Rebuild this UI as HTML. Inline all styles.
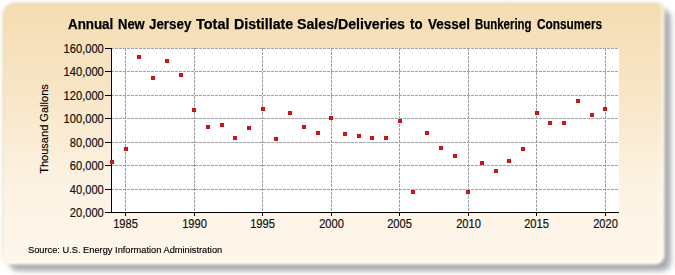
<!DOCTYPE html>
<html><head><meta charset="utf-8"><style>
html,body{margin:0;padding:0;background:#fff;}
body{width:675px;height:275px;position:relative;overflow:hidden;}
.panel{position:absolute;left:3px;top:3px;width:661px;height:261px;border-radius:13px 8px 9px 8px;filter:blur(1px);
background:linear-gradient(to bottom,#f5ddb3 0%,#f8e6c6 35%,#fdf3e4 70%,#fff7ec 100%);
box-shadow:0 0 3px 1px rgba(236,228,205,0.85), 2px 2px 4px rgba(0,0,0,0.1), 7px 7px 5px rgba(10,20,30,0.34), inset -2px -2px 3px rgba(255,255,255,0.75), inset 1px 1px 2px rgba(150,150,100,0.12);}
svg{position:absolute;left:0;top:0;}
.ax{font-family:"Liberation Sans",sans-serif;font-size:12.5px;fill:#111;stroke:#111;stroke-width:0.2px;}
.tw{position:absolute;top:16px;font-family:"Liberation Sans",sans-serif;font-weight:bold;font-size:14.0px;line-height:16px;color:#000;-webkit-text-stroke:0.25px #000;white-space:nowrap;transform-origin:0 0;}
.ytitle{position:absolute;left:43.5px;top:129.3px;width:0;height:0;}
.ytitle span{position:absolute;left:0;top:0;transform:translate(-50%,-50%) rotate(-90deg);font-family:"Liberation Sans",sans-serif;font-size:11.05px;line-height:13px;color:#000;-webkit-text-stroke:0.15px #000;white-space:nowrap;}
.src{position:absolute;left:28.2px;top:242.5px;font-family:"Liberation Sans",sans-serif;font-size:9.6px;line-height:13px;color:#000;-webkit-text-stroke:0.15px #000;white-space:nowrap;transform-origin:0 0;transform:scaleX(0.966);}
</style></head><body>
<div class="panel"></div>
<span class="tw" style="left:68.00px;transform:scaleX(0.9532)">Annual</span><span class="tw" style="left:118.20px;transform:scaleX(0.9276)">New</span><span class="tw" style="left:149.10px;transform:scaleX(0.9533)">Jersey</span><span class="tw" style="left:196.00px;transform:scaleX(1.0344)">Total</span><span class="tw" style="left:233.80px;transform:scaleX(1.0155)">Distillate</span><span class="tw" style="left:296.80px;transform:scaleX(1.0121)">Sales/Deliveries</span><span class="tw" style="left:409.50px;transform:scaleX(0.9462)">to</span><span class="tw" style="left:428.00px;transform:scaleX(0.9614)">Vessel</span><span class="tw" style="left:475.40px;transform:scaleX(0.8174)">Bunkering</span><span class="tw" style="left:536.80px;transform:scaleX(0.8455)">Consumers</span>
<div class="ytitle"><span>Thousand Gallons</span></div>
<svg width="675" height="275" viewBox="0 0 675 275" shape-rendering="crispEdges">
<rect x="112" y="48" width="507" height="164" fill="#ffffff"/>
<line x1="111" y1="48.5" x2="619" y2="48.5" stroke="#a0a0a0" stroke-width="1" stroke-dasharray="3,1"/>
<line x1="111" y1="71.5" x2="619" y2="71.5" stroke="#a0a0a0" stroke-width="1" stroke-dasharray="3,1"/>
<line x1="111" y1="95.5" x2="619" y2="95.5" stroke="#a0a0a0" stroke-width="1" stroke-dasharray="3,1"/>
<line x1="111" y1="118.5" x2="619" y2="118.5" stroke="#a0a0a0" stroke-width="1" stroke-dasharray="3,1"/>
<line x1="111" y1="142.5" x2="619" y2="142.5" stroke="#a0a0a0" stroke-width="1" stroke-dasharray="3,1"/>
<line x1="111" y1="165.5" x2="619" y2="165.5" stroke="#a0a0a0" stroke-width="1" stroke-dasharray="3,1"/>
<line x1="111" y1="189.5" x2="619" y2="189.5" stroke="#a0a0a0" stroke-width="1" stroke-dasharray="3,1"/>
<line x1="125.5" y1="48" x2="125.5" y2="212" stroke="#a0a0a0" stroke-width="1" stroke-dasharray="3,1"/>
<line x1="194.5" y1="48" x2="194.5" y2="212" stroke="#a0a0a0" stroke-width="1" stroke-dasharray="3,1"/>
<line x1="262.5" y1="48" x2="262.5" y2="212" stroke="#a0a0a0" stroke-width="1" stroke-dasharray="3,1"/>
<line x1="331.5" y1="48" x2="331.5" y2="212" stroke="#a0a0a0" stroke-width="1" stroke-dasharray="3,1"/>
<line x1="399.5" y1="48" x2="399.5" y2="212" stroke="#a0a0a0" stroke-width="1" stroke-dasharray="3,1"/>
<line x1="468.5" y1="48" x2="468.5" y2="212" stroke="#a0a0a0" stroke-width="1" stroke-dasharray="3,1"/>
<line x1="536.5" y1="48" x2="536.5" y2="212" stroke="#a0a0a0" stroke-width="1" stroke-dasharray="3,1"/>
<line x1="605.5" y1="48" x2="605.5" y2="212" stroke="#a0a0a0" stroke-width="1" stroke-dasharray="3,1"/>
<line x1="111.5" y1="48" x2="111.5" y2="213" stroke="#000" stroke-width="1"/>
<line x1="111" y1="212.5" x2="619" y2="212.5" stroke="#000" stroke-width="1"/>
<line x1="105" y1="48.5" x2="111" y2="48.5" stroke="#000" stroke-width="1"/>
<line x1="105" y1="71.5" x2="111" y2="71.5" stroke="#000" stroke-width="1"/>
<line x1="105" y1="95.5" x2="111" y2="95.5" stroke="#000" stroke-width="1"/>
<line x1="105" y1="118.5" x2="111" y2="118.5" stroke="#000" stroke-width="1"/>
<line x1="105" y1="142.5" x2="111" y2="142.5" stroke="#000" stroke-width="1"/>
<line x1="105" y1="165.5" x2="111" y2="165.5" stroke="#000" stroke-width="1"/>
<line x1="105" y1="189.5" x2="111" y2="189.5" stroke="#000" stroke-width="1"/>
<line x1="105" y1="212.5" x2="111" y2="212.5" stroke="#000" stroke-width="1"/>
<line x1="125.5" y1="213" x2="125.5" y2="216" stroke="#000" stroke-width="1"/>
<line x1="194.5" y1="213" x2="194.5" y2="216" stroke="#000" stroke-width="1"/>
<line x1="262.5" y1="213" x2="262.5" y2="216" stroke="#000" stroke-width="1"/>
<line x1="331.5" y1="213" x2="331.5" y2="216" stroke="#000" stroke-width="1"/>
<line x1="399.5" y1="213" x2="399.5" y2="216" stroke="#000" stroke-width="1"/>
<line x1="468.5" y1="213" x2="468.5" y2="216" stroke="#000" stroke-width="1"/>
<line x1="536.5" y1="213" x2="536.5" y2="216" stroke="#000" stroke-width="1"/>
<line x1="605.5" y1="213" x2="605.5" y2="216" stroke="#000" stroke-width="1"/>
<rect x="110" y="160" width="4" height="4" fill="#c2121c"/><rect x="111" y="161" width="2" height="2" fill="#e0111f"/>
<rect x="124" y="147" width="4" height="4" fill="#c2121c"/><rect x="125" y="148" width="2" height="2" fill="#e0111f"/>
<rect x="137" y="55" width="4" height="4" fill="#c2121c"/><rect x="138" y="56" width="2" height="2" fill="#e0111f"/>
<rect x="151" y="76" width="4" height="4" fill="#c2121c"/><rect x="152" y="77" width="2" height="2" fill="#e0111f"/>
<rect x="165" y="59" width="4" height="4" fill="#c2121c"/><rect x="166" y="60" width="2" height="2" fill="#e0111f"/>
<rect x="179" y="73" width="4" height="4" fill="#c2121c"/><rect x="180" y="74" width="2" height="2" fill="#e0111f"/>
<rect x="192" y="108" width="4" height="4" fill="#c2121c"/><rect x="193" y="109" width="2" height="2" fill="#e0111f"/>
<rect x="206" y="125" width="4" height="4" fill="#c2121c"/><rect x="207" y="126" width="2" height="2" fill="#e0111f"/>
<rect x="220" y="123" width="4" height="4" fill="#c2121c"/><rect x="221" y="124" width="2" height="2" fill="#e0111f"/>
<rect x="233" y="136" width="4" height="4" fill="#c2121c"/><rect x="234" y="137" width="2" height="2" fill="#e0111f"/>
<rect x="247" y="126" width="4" height="4" fill="#c2121c"/><rect x="248" y="127" width="2" height="2" fill="#e0111f"/>
<rect x="261" y="107" width="4" height="4" fill="#c2121c"/><rect x="262" y="108" width="2" height="2" fill="#e0111f"/>
<rect x="274" y="137" width="4" height="4" fill="#c2121c"/><rect x="275" y="138" width="2" height="2" fill="#e0111f"/>
<rect x="288" y="111" width="4" height="4" fill="#c2121c"/><rect x="289" y="112" width="2" height="2" fill="#e0111f"/>
<rect x="302" y="125" width="4" height="4" fill="#c2121c"/><rect x="303" y="126" width="2" height="2" fill="#e0111f"/>
<rect x="316" y="131" width="4" height="4" fill="#c2121c"/><rect x="317" y="132" width="2" height="2" fill="#e0111f"/>
<rect x="329" y="116" width="4" height="4" fill="#c2121c"/><rect x="330" y="117" width="2" height="2" fill="#e0111f"/>
<rect x="343" y="132" width="4" height="4" fill="#c2121c"/><rect x="344" y="133" width="2" height="2" fill="#e0111f"/>
<rect x="357" y="134" width="4" height="4" fill="#c2121c"/><rect x="358" y="135" width="2" height="2" fill="#e0111f"/>
<rect x="370" y="136" width="4" height="4" fill="#c2121c"/><rect x="371" y="137" width="2" height="2" fill="#e0111f"/>
<rect x="384" y="136" width="4" height="4" fill="#c2121c"/><rect x="385" y="137" width="2" height="2" fill="#e0111f"/>
<rect x="398" y="119" width="4" height="4" fill="#c2121c"/><rect x="399" y="120" width="2" height="2" fill="#e0111f"/>
<rect x="411" y="190" width="4" height="4" fill="#c2121c"/><rect x="412" y="191" width="2" height="2" fill="#e0111f"/>
<rect x="425" y="131" width="4" height="4" fill="#c2121c"/><rect x="426" y="132" width="2" height="2" fill="#e0111f"/>
<rect x="439" y="146" width="4" height="4" fill="#c2121c"/><rect x="440" y="147" width="2" height="2" fill="#e0111f"/>
<rect x="453" y="154" width="4" height="4" fill="#c2121c"/><rect x="454" y="155" width="2" height="2" fill="#e0111f"/>
<rect x="466" y="190" width="4" height="4" fill="#c2121c"/><rect x="467" y="191" width="2" height="2" fill="#e0111f"/>
<rect x="480" y="161" width="4" height="4" fill="#c2121c"/><rect x="481" y="162" width="2" height="2" fill="#e0111f"/>
<rect x="494" y="169" width="4" height="4" fill="#c2121c"/><rect x="495" y="170" width="2" height="2" fill="#e0111f"/>
<rect x="507" y="159" width="4" height="4" fill="#c2121c"/><rect x="508" y="160" width="2" height="2" fill="#e0111f"/>
<rect x="521" y="147" width="4" height="4" fill="#c2121c"/><rect x="522" y="148" width="2" height="2" fill="#e0111f"/>
<rect x="535" y="111" width="4" height="4" fill="#c2121c"/><rect x="536" y="112" width="2" height="2" fill="#e0111f"/>
<rect x="548" y="121" width="4" height="4" fill="#c2121c"/><rect x="549" y="122" width="2" height="2" fill="#e0111f"/>
<rect x="562" y="121" width="4" height="4" fill="#c2121c"/><rect x="563" y="122" width="2" height="2" fill="#e0111f"/>
<rect x="576" y="99" width="4" height="4" fill="#c2121c"/><rect x="577" y="100" width="2" height="2" fill="#e0111f"/>
<rect x="590" y="113" width="4" height="4" fill="#c2121c"/><rect x="591" y="114" width="2" height="2" fill="#e0111f"/>
<rect x="603" y="107" width="4" height="4" fill="#c2121c"/><rect x="604" y="108" width="2" height="2" fill="#e0111f"/>
<text transform="translate(103.8,52.8) scale(0.89,1)" text-anchor="end" class="ax">160,000</text>
<text transform="translate(103.8,75.8) scale(0.89,1)" text-anchor="end" class="ax">140,000</text>
<text transform="translate(103.8,99.8) scale(0.89,1)" text-anchor="end" class="ax">120,000</text>
<text transform="translate(103.8,122.8) scale(0.89,1)" text-anchor="end" class="ax">100,000</text>
<text transform="translate(103.8,146.8) scale(0.89,1)" text-anchor="end" class="ax">80,000</text>
<text transform="translate(103.8,169.8) scale(0.89,1)" text-anchor="end" class="ax">60,000</text>
<text transform="translate(103.8,193.8) scale(0.89,1)" text-anchor="end" class="ax">40,000</text>
<text transform="translate(103.8,216.8) scale(0.89,1)" text-anchor="end" class="ax">20,000</text>
<text transform="translate(125.5,227.6) scale(0.89,1)" text-anchor="middle" class="ax">1985</text>
<text transform="translate(194.5,227.6) scale(0.89,1)" text-anchor="middle" class="ax">1990</text>
<text transform="translate(262.5,227.6) scale(0.89,1)" text-anchor="middle" class="ax">1995</text>
<text transform="translate(331.5,227.6) scale(0.89,1)" text-anchor="middle" class="ax">2000</text>
<text transform="translate(399.5,227.6) scale(0.89,1)" text-anchor="middle" class="ax">2005</text>
<text transform="translate(468.5,227.6) scale(0.89,1)" text-anchor="middle" class="ax">2010</text>
<text transform="translate(536.5,227.6) scale(0.89,1)" text-anchor="middle" class="ax">2015</text>
<text transform="translate(605.5,227.6) scale(0.89,1)" text-anchor="middle" class="ax">2020</text>
</svg>
<div class="src">Source: U.S. Energy Information Administration</div>
</body></html>
